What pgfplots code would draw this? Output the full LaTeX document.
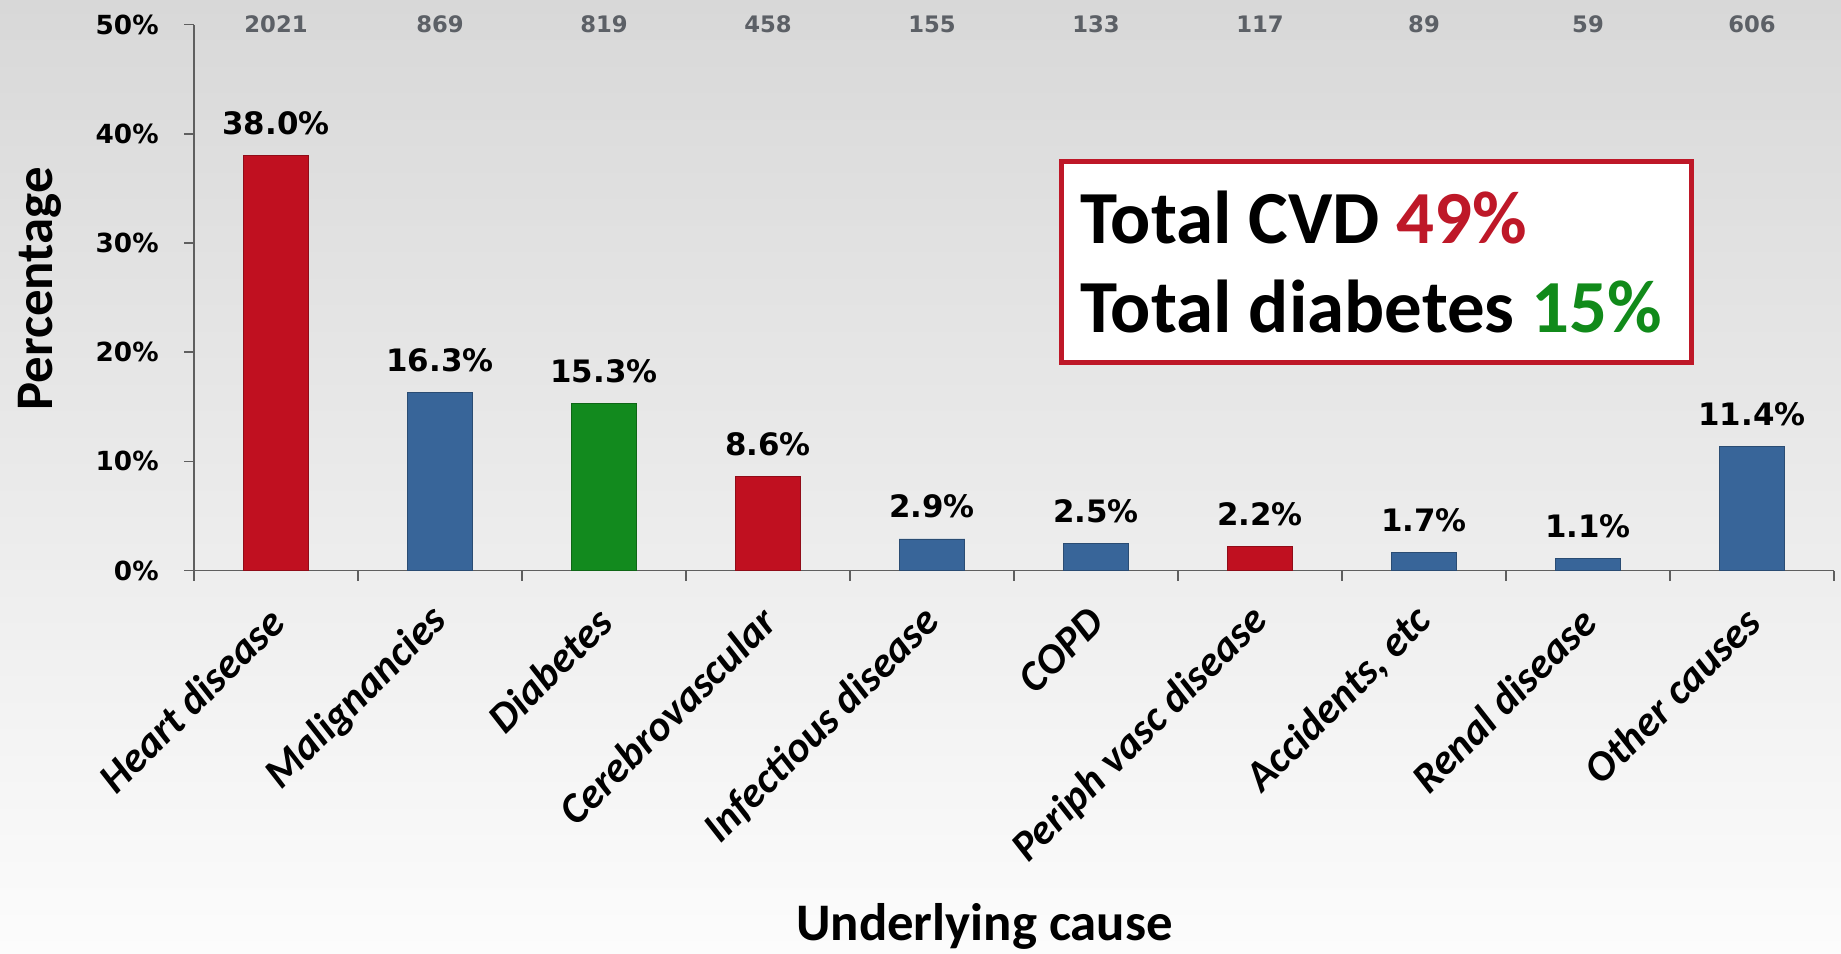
\documentclass[border=0pt]{standalone}
\usepackage{pgfplots}
\pgfplotsset{compat=1.18}
\usepackage{fontspec}
\setmainfont{Carlito}
\newfontfamily\numfont{DejaVu Sans}
\definecolor{cred}{RGB}{192,16,32}
\definecolor{cblue}{RGB}{56,101,153}
\definecolor{cgreen}{RGB}{18,138,30}
\definecolor{boxred}{RGB}{190,24,40}
\definecolor{txtgreen}{RGB}{17,138,26}
\definecolor{axgray}{RGB}{95,95,95}
\definecolor{cntgray}{RGB}{92,96,102}
\pgfplotsset{
  vallabels/.style={
    nodes near coords={\pgfmathprintnumber[fixed,fixed zerofill,precision=1,assume math mode=true]{\pgfplotspointmeta}\%},
    every node near coord/.style={font=\numfont\bfseries\fontsize{15.5}{18}\selectfont, anchor=base, yshift=10.5bp, inner sep=0pt, text=black}
  }
}
\begin{document}
\begin{tikzpicture}
\fill[top color={rgb,255:red,216;green,216;blue,216}, bottom color={rgb,255:red,252;green,252;blue,252}] (0,0) rectangle (920.5bp,477bp);
\useasboundingbox (0,0) rectangle (920.5bp,477bp);
\begin{axis}[
  at={(97bp,191.7bp)}, anchor=south west,
  scale only axis, width=820bp, height=272.95bp,
  xmin=-0.5, xmax=9.5, ymin=0, ymax=50,
  clip=false,
  axis x line*=bottom, axis y line*=left,
  axis line style={axgray, line width=0.8bp, -},
  xtick={0,...,9},
  xticklabels={Heart disease,Malignancies,Diabetes,Cerebrovascular,Infectious disease,COPD,Periph vasc disease,{Accidents, etc},Renal disease,Other causes},
  ytick={0,10,20,30,40,50},
  yticklabels={0\%,10\%,20\%,30\%,40\%,50\%},
  major tick length=0pt,
  minor xtick={-0.5,0.5,...,9.5},
  minor ytick={0,10,20,30,40,50},
  minor tick length=5bp,
  tick align=outside,
  minor tick style={axgray, line width=0.8bp},
  xticklabel style={font=\bfseries\itshape\fontsize{21.4}{25}\selectfont, inner sep=0pt, xshift=0.5bp, yshift=-22bp, rotate=45, anchor=east},
  yticklabel style={font=\numfont\bfseries\fontsize{13.2}{15}\selectfont, inner sep=0pt, anchor=east, xshift=-17.5bp},
  xlabel={Underlying cause},
  ylabel={Percentage},
  xlabel style={font=\bfseries\fontsize{26.5}{30}\selectfont, at={(axis description cs:0.482,-0.652)}, anchor=center},
  ylabel style={font=\bfseries\fontsize{26.5}{30}\selectfont, at={(axis description cs:-0.094,0.516)}, anchor=center, rotate=0},
]
\addplot[ybar, bar width=0.4, bar shift=0pt, fill=cred, draw=cred!75!black, line width=0.4bp, vallabels] coordinates {(0,38.0) (3,8.6) (6,2.2)};
\addplot[ybar, bar width=0.4, bar shift=0pt, fill=cblue, draw=cblue!75!black, line width=0.4bp, vallabels] coordinates {(1,16.3) (4,2.9) (5,2.5) (7,1.7) (8,1.1) (9,11.4)};
\addplot[ybar, bar width=0.4, bar shift=0pt, fill=cgreen, draw=cgreen!75!black, line width=0.4bp, vallabels] coordinates {(2,15.3)};
\addplot[draw=none, mark=none, point meta=explicit symbolic,
  nodes near coords={\pgfplotspointmeta},
  every node near coord/.style={font=\numfont\bfseries\fontsize{11.4}{13}\selectfont, anchor=center, inner sep=0pt, text=cntgray}]
  coordinates {(0,50) [2021] (1,50) [869] (2,50) [819] (3,50) [458] (4,50) [155] (5,50) [133] (6,50) [117] (7,50) [89] (8,50) [59] (9,50) [606]};
\draw[boxred, line width=2.5bp, fill=white] (axis cs:4.787,37.5) rectangle (axis cs:8.628,19.1);
\node[anchor=base west, inner sep=0pt, font=\bfseries\fontsize{37.6}{41}\selectfont] at (axis cs:4.902,30.0) {Total CVD \textcolor{boxred}{49\%}};
\node[anchor=base west, inner sep=0pt, font=\bfseries\fontsize{37.6}{41}\selectfont] at (axis cs:4.902,21.8) {Total diabetes \textcolor{txtgreen}{15\%}};
\end{axis}
\end{tikzpicture}
\end{document}
